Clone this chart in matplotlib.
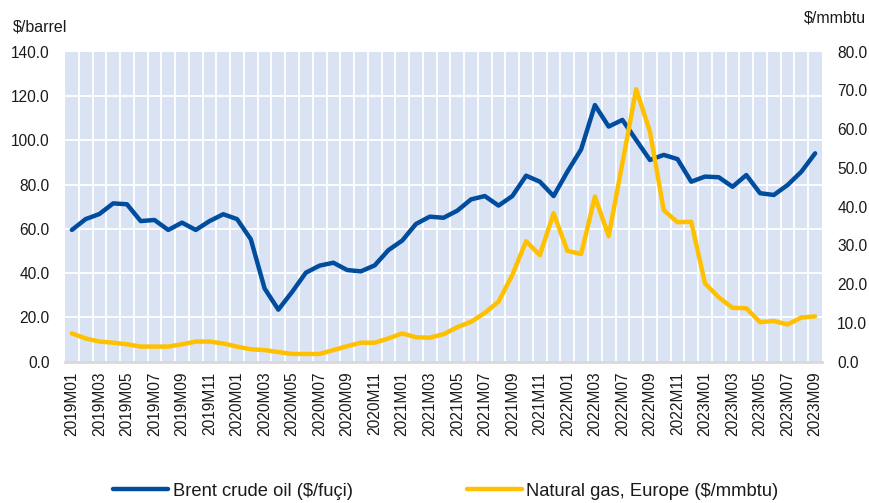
import matplotlib
matplotlib.use("Agg")
import matplotlib.pyplot as plt
import numpy as np

plt.rcParams['font.family'] = ['Liberation Sans', 'DejaVu Sans']

categories = [
    "2019M01", "2019M02", "2019M03", "2019M04", "2019M05", "2019M06",
    "2019M07", "2019M08", "2019M09", "2019M10", "2019M11", "2019M12",
    "2020M01", "2020M02", "2020M03", "2020M04", "2020M05", "2020M06",
    "2020M07", "2020M08", "2020M09", "2020M10", "2020M11", "2020M12",
    "2021M01", "2021M02", "2021M03", "2021M04", "2021M05", "2021M06",
    "2021M07", "2021M08", "2021M09", "2021M10", "2021M11", "2021M12",
    "2022M01", "2022M02", "2022M03", "2022M04", "2022M07", "2022M08",
    "2022M09", "2022M10", "2022M11", "2022M12",
    "2023M01", "2023M02", "2023M03", "2023M04", "2023M05", "2023M06",
    "2023M07", "2023M08", "2023M09",
]

brent = [
    59.5, 64.4, 66.7, 71.5, 71.1, 63.5, 64.0, 59.5, 62.8, 59.5, 63.5, 66.6,
    64.4, 55.3, 33.1, 23.5, 31.5, 40.2, 43.4, 44.7, 41.4, 40.8, 43.5, 50.4,
    54.7, 62.2, 65.5, 65.0, 68.2, 73.3, 74.8, 70.5, 74.8, 84.0, 81.3, 74.8,
    85.8, 95.9, 115.9, 106.2, 109.2, 100.1, 91.1, 93.4, 91.5,
    81.3, 83.6, 83.3, 79.0, 84.3, 76.1, 75.3, 79.8, 85.8, 94.1,
]

gas = [
    7.3, 6.0, 5.2, 4.9, 4.5, 3.9, 3.9, 3.9, 4.5, 5.2, 5.2, 4.7,
    3.9, 3.2, 3.0, 2.5, 2.0, 2.0, 2.0, 3.0, 4.0, 4.9, 4.9, 6.0,
    7.3, 6.3, 6.2, 7.1, 8.9, 10.3, 12.6, 15.5, 22.4, 31.1, 27.5, 38.3,
    28.6, 27.8, 42.6, 32.4, 51.3, 70.3, 59.4, 39.1, 36.0,
    36.1, 20.2, 16.6, 13.9, 13.8, 10.2, 10.5, 9.6, 11.4, 11.7,
]

left_ticks = [0, 20, 40, 60, 80, 100, 120, 140]
right_ticks = [0, 10, 20, 30, 40, 50, 60, 70, 80]

BLUE = "#004C9E"
GOLD = "#FFC000"
BG = "#DAE3F3"
TXT = "#1a1a1a"
FS = 11.2

fig = plt.figure(figsize=(8.69, 5.03), dpi=100)
ax = fig.add_axes([65 / 869, 1 - 361.7 / 503, (822 - 65) / 869, (361.7 - 51.7) / 503])
ax2 = ax.twinx()

n = len(categories)
x = np.arange(n)

ax.set_facecolor(BG)
ax.set_xlim(-0.5, n - 0.5)
ax.set_ylim(0, 140)
ax2.set_ylim(0, 80)

# gridlines
for b in np.arange(0.5, n - 0.5, 1.0):
    ax.axvline(b, color="white", lw=1.3, zorder=1)
for t in left_ticks[1:-1]:
    ax.axhline(t, color="white", lw=1.3, zorder=1)

l1, = ax.plot(x, brent, color=BLUE, lw=3.2, zorder=3, solid_joinstyle="round",
              solid_capstyle="round", label="Brent crude oil ($/fuçi)")
l2, = ax2.plot(x, gas, color=GOLD, lw=3.2, zorder=3, solid_joinstyle="round",
               solid_capstyle="round", label="Natural gas, Europe ($/mmbtu)")

for a in (ax, ax2):
    for s in ("top", "left", "right"):
        a.spines[s].set_visible(False)
ax2.spines["bottom"].set_visible(False)
ax.spines["bottom"].set_color("#D9D9D9")
ax.spines["bottom"].set_linewidth(2)

ax.set_yticks(left_ticks)
ax.set_yticklabels([f"{v:.1f}" for v in left_ticks])
ax2.set_yticks(right_ticks)
ax2.set_yticklabels([f"{v:.1f}" for v in right_ticks])
ax.tick_params(axis="y", length=0, pad=11, labelsize=FS, labelcolor=TXT)
ax2.tick_params(axis="y", length=0, pad=11, labelsize=FS, labelcolor=TXT)

ax.set_xticks(x[::2])
ax.set_xticklabels(categories[::2], rotation=90, fontsize=FS, color=TXT)
ax.tick_params(axis="x", length=0, pad=7)

fig.text(13 / 869, 1 - 27 / 503, "$/barrel", fontsize=FS + 0.3, color=TXT, ha="left", va="center")
fig.text(866 / 869, 1 - 18 / 503, "$/mmbtu", fontsize=FS + 0.3, color=TXT, ha="right", va="center")

fig.legend(handles=[l1, l2], loc="center", bbox_to_anchor=(0.513, 1 - 491 / 503),
           ncol=2, frameon=False, fontsize=13.2, handlelength=3.0,
           columnspacing=6.2, handletextpad=0.25, labelcolor=TXT)

fig.savefig("out.png", dpi=100)
